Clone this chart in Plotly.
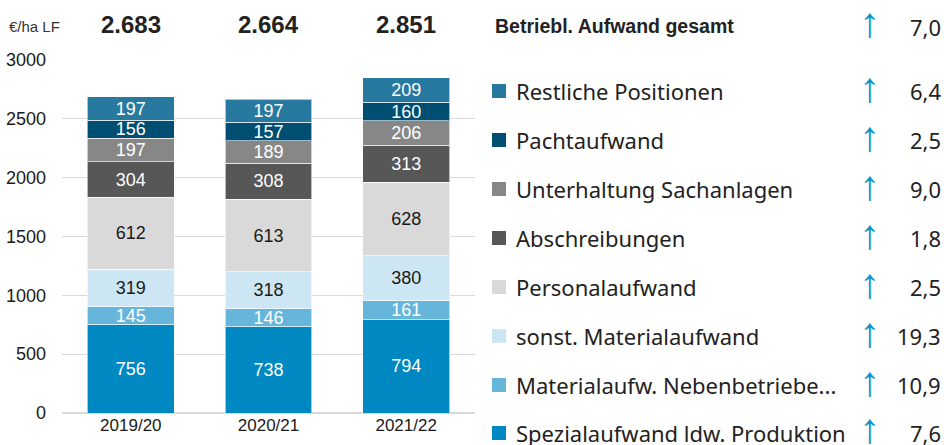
import plotly.graph_objects as go

years = ["2019/20", "2020/21", "2021/22"]
totals = ["2.683", "2.664", "2.851"]

series_names = [
    "Spezialaufwand ldw. Produktion",
    "Materialaufw. Nebenbetriebe...",
    "sonst. Materialaufwand",
    "Personalaufwand",
    "Abschreibungen",
    "Unterhaltung Sachanlagen",
    "Pachtaufwand",
    "Restliche Positionen",
]
spezial = [756, 738, 794]
nebenbetriebe = [145, 146, 161]
sonst_material = [319, 318, 380]
personal = [612, 613, 628]
abschreibungen = [304, 308, 313]
unterhaltung = [197, 189, 206]
pacht = [156, 157, 160]
restliche = [197, 197, 209]
series_values = [spezial, nebenbetriebe, sonst_material, personal,
                 abschreibungen, unterhaltung, pacht, restliche]

changes = ["7,6", "10,9", "19,3", "2,5", "1,8", "9,0", "2,5", "6,4"]
total_change = "7,0"
header_label = "Betriebl. Aufwand gesamt"
unit_label = "€/ha LF"

colors = ["#0088c2", "#66b6dc", "#cce7f3", "#d9d9d9",
          "#575757", "#878787", "#004f72", "#2879a0"]
text_colors = ["white", "white", "#1a1a1a", "#1a1a1a",
               "white", "white", "white", "white"]

fig = go.Figure()
for name, vals, col, tcol in zip(series_names, series_values, colors, text_colors):
    fig.add_trace(go.Bar(
        x=years, y=vals, name=name,
        marker=dict(color=col, line=dict(color="rgba(255,255,255,0.6)", width=1)),
        text=[str(v) for v in vals], textposition="inside",
        insidetextanchor="middle", constraintext="none",
        textfont=dict(family="Liberation Sans, Arial", size=18, color=tcol),
        showlegend=False, hoverinfo="skip",
    ))

# plot area in pixels
L, R, T, B = 62, 475, 60, 413
W, H = R - L, B - T


def px(xp):
    return (xp - L) / W


def py(yp):
    return (B - yp) / H


ann = []
ann.append(dict(x=px(7), y=py(26), xref="paper", yref="paper", text=unit_label,
                showarrow=False, xanchor="left", yanchor="middle",
                font=dict(family="Liberation Sans, Arial", size=15, color="#333333")))
for yr, t in zip(years, totals):
    ann.append(dict(x=yr, y=py(25), xref="x", yref="paper", text="<b>%s</b>" % t,
                    showarrow=False, xanchor="center", yanchor="middle",
                    font=dict(family="Liberation Sans, Arial", size=24, color="#222222")))

legend_font = dict(family="Noto Sans, Open Sans", size=22, color="#222222")
arrow_font = dict(family="Liberation Sans, DejaVu Sans", size=42, color="#0a95d0")
ARROW_X = 869
ARROW = "<b>↑</b>"

ann.append(dict(x=px(493), y=py(26), xref="paper", yref="paper",
                text="<b>%s</b>" % header_label, showarrow=False,
                xanchor="left", yanchor="middle",
                font=dict(family="Liberation Sans Narrow, Arial Narrow, Liberation Sans", size=19.5, color="#222222")))
ann.append(dict(x=px(ARROW_X), y=py(22), xref="paper", yref="paper", text=ARROW,
                showarrow=False, xanchor="center", yanchor="middle", font=arrow_font))
ann.append(dict(x=px(943), y=py(27), xref="paper", yref="paper", text=total_change,
                showarrow=False, xanchor="right", yanchor="middle", font=legend_font))

shapes = []
row_y = [433, 385, 336, 287, 238, 189, 140, 91]
for name, col, ch, yy in zip(series_names, colors, changes, row_y):
    shapes.append(dict(type="rect", xref="paper", yref="paper",
                       x0=px(492), x1=px(506), y0=py(yy + 7), y1=py(yy - 7),
                       fillcolor=col, line=dict(width=0)))
    ann.append(dict(x=px(514), y=py(yy), xref="paper", yref="paper", text=name,
                    showarrow=False, xanchor="left", yanchor="middle", font=legend_font))
    ann.append(dict(x=px(ARROW_X), y=py(yy - 4), xref="paper", yref="paper", text=ARROW,
                    showarrow=False, xanchor="center", yanchor="middle", font=arrow_font))
    ann.append(dict(x=px(943), y=py(yy), xref="paper", yref="paper", text=ch,
                    showarrow=False, xanchor="right", yanchor="middle", font=legend_font))

fig.update_layout(
    barmode="stack", bargap=0.37,
    width=944, height=445,
    margin=dict(l=L, r=944 - R, t=T, b=445 - B, pad=0, autoexpand=False),
    paper_bgcolor="white", plot_bgcolor="white",
    annotations=ann, shapes=shapes,
    xaxis=dict(showgrid=False, showline=False, ticks="", automargin=False,
               tickfont=dict(family="Liberation Sans, Arial", size=17, color="#1a1a1a")),
    yaxis=dict(range=[0, 3000], tickvals=[0, 500, 1000, 1500, 2000, 2500, 3000],
               showgrid=True, gridcolor="#d9d9d9", gridwidth=1, zeroline=True,
               zerolinecolor="#d9d9d9", ticks="", ticklabelstandoff=15, automargin=False,
               tickfont=dict(family="Liberation Sans, Arial", size=18, color="#1a1a1a")),
)

fig.write_html("out.html", config={"displayModeBar": False},
               post_script="document.body.style.margin='0';document.body.style.overflow='hidden';")
